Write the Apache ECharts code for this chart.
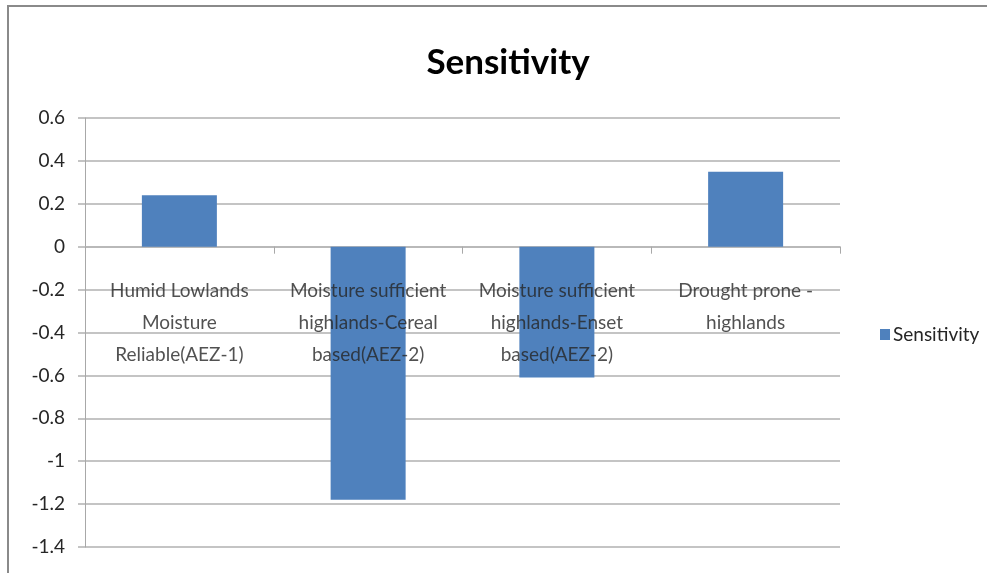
<!DOCTYPE html>
<html>
<head>
<meta charset="utf-8">
<script src="https://cdn.jsdelivr.net/npm/echarts@6/dist/echarts.min.js"></script>
<style>
  html, body { margin: 0; padding: 0; background: #fff; }
  #chart { width: 987px; height: 573px; }
</style>
</head>
<body>
<div id="chart"></div>
<script>
// Agro-ecological zones and their sensitivity scores
const zones = [
  'Humid Lowlands\nMoisture\nReliable(AEZ-1)',
  'Moisture sufficient\nhighlands-Cereal\nbased(AEZ-2)',
  'Moisture sufficient\nhighlands-Enset\nbased(AEZ-2)',
  'Drought prone -\nhighlands'
];
const sensitivity = [0.24, -1.18, -0.61, 0.35];
const yMin = -1.4, yMax = 0.6, yStep = 0.2;

const font = 'Lato, "Open Sans", sans-serif';
const textColor = '#262626';
const chart = echarts.init(document.getElementById('chart'));

chart.setOption({
  animation: false,
  backgroundColor: '#ffffff',
  title: {
    text: 'Sensitivity',
    left: 503, top: 40, textAlign: 'center',
    textStyle: { fontFamily: font, fontSize: 35, fontWeight: 'bold', color: '#000' }
  },
  legend: {
    data: ['Sensitivity'],
    orient: 'vertical',
    left: 875, top: 320,
    itemWidth: 10, itemHeight: 11, itemGap: 4,
    icon: 'rect',
    textStyle: { fontFamily: font, fontSize: 19, color: textColor, padding: [0, 0, 0, -2] }
  },
  grid: { left: 85, right: 147, top: 118, bottom: 26, containLabel: false, outerBoundsMode: 'none' },
  xAxis: {
    type: 'category',
    data: zones,
    axisLine: { onZero: true, lineStyle: { color: '#b5b5b5', width: 1.5 } },
    axisTick: { show: true, alignWithLabel: false, length: 7, lineStyle: { color: '#a8a8a8' } },
    axisLabel: { show: false },
    splitLine: { show: false }
  },
  yAxis: {
    type: 'value',
    min: yMin, max: yMax, interval: yStep,
    axisLine: { show: true, lineStyle: { color: '#a8a8a8', width: 1 } },
    axisTick: { show: true, length: 7, lineStyle: { color: '#c4c4c4', width: 2 } },
    axisLabel: {
      margin: 20,
      fontFamily: font, fontSize: 19, color: textColor,
      formatter: v => String(Math.round(v * 10) / 10)
    },
    splitLine: { lineStyle: { color: '#c4c4c4', width: 2 } }
  },
  series: [{
    name: 'Sensitivity',
    type: 'bar',
    data: sensitivity,
    barWidth: 75,
    itemStyle: { color: '#4F81BD' },
    z: 1
  }, {
    // zone names hang just below the zero line, over the bars
    name: 'zoneNames',
    type: 'scatter',
    data: zones.map((z, i) => [i, 0]),
    symbolSize: 1,
    itemStyle: { color: 'rgba(0,0,0,0)' },
    silent: true,
    z: 5,
    label: {
      show: true,
      position: 'bottom',
      distance: 28,
      formatter: p => zones[p.dataIndex],
      fontFamily: font, fontSize: 19, lineHeight: 32, color: textColor, align: 'center'
    }
  }],
  graphic: [{
    type: 'rect',
    shape: { x: 8, y: 6, width: 1000, height: 600 },
    style: { fill: 'none', stroke: '#8a8a8a', lineWidth: 2 },
    silent: true
  }]
});
</script>
</body>
</html>
